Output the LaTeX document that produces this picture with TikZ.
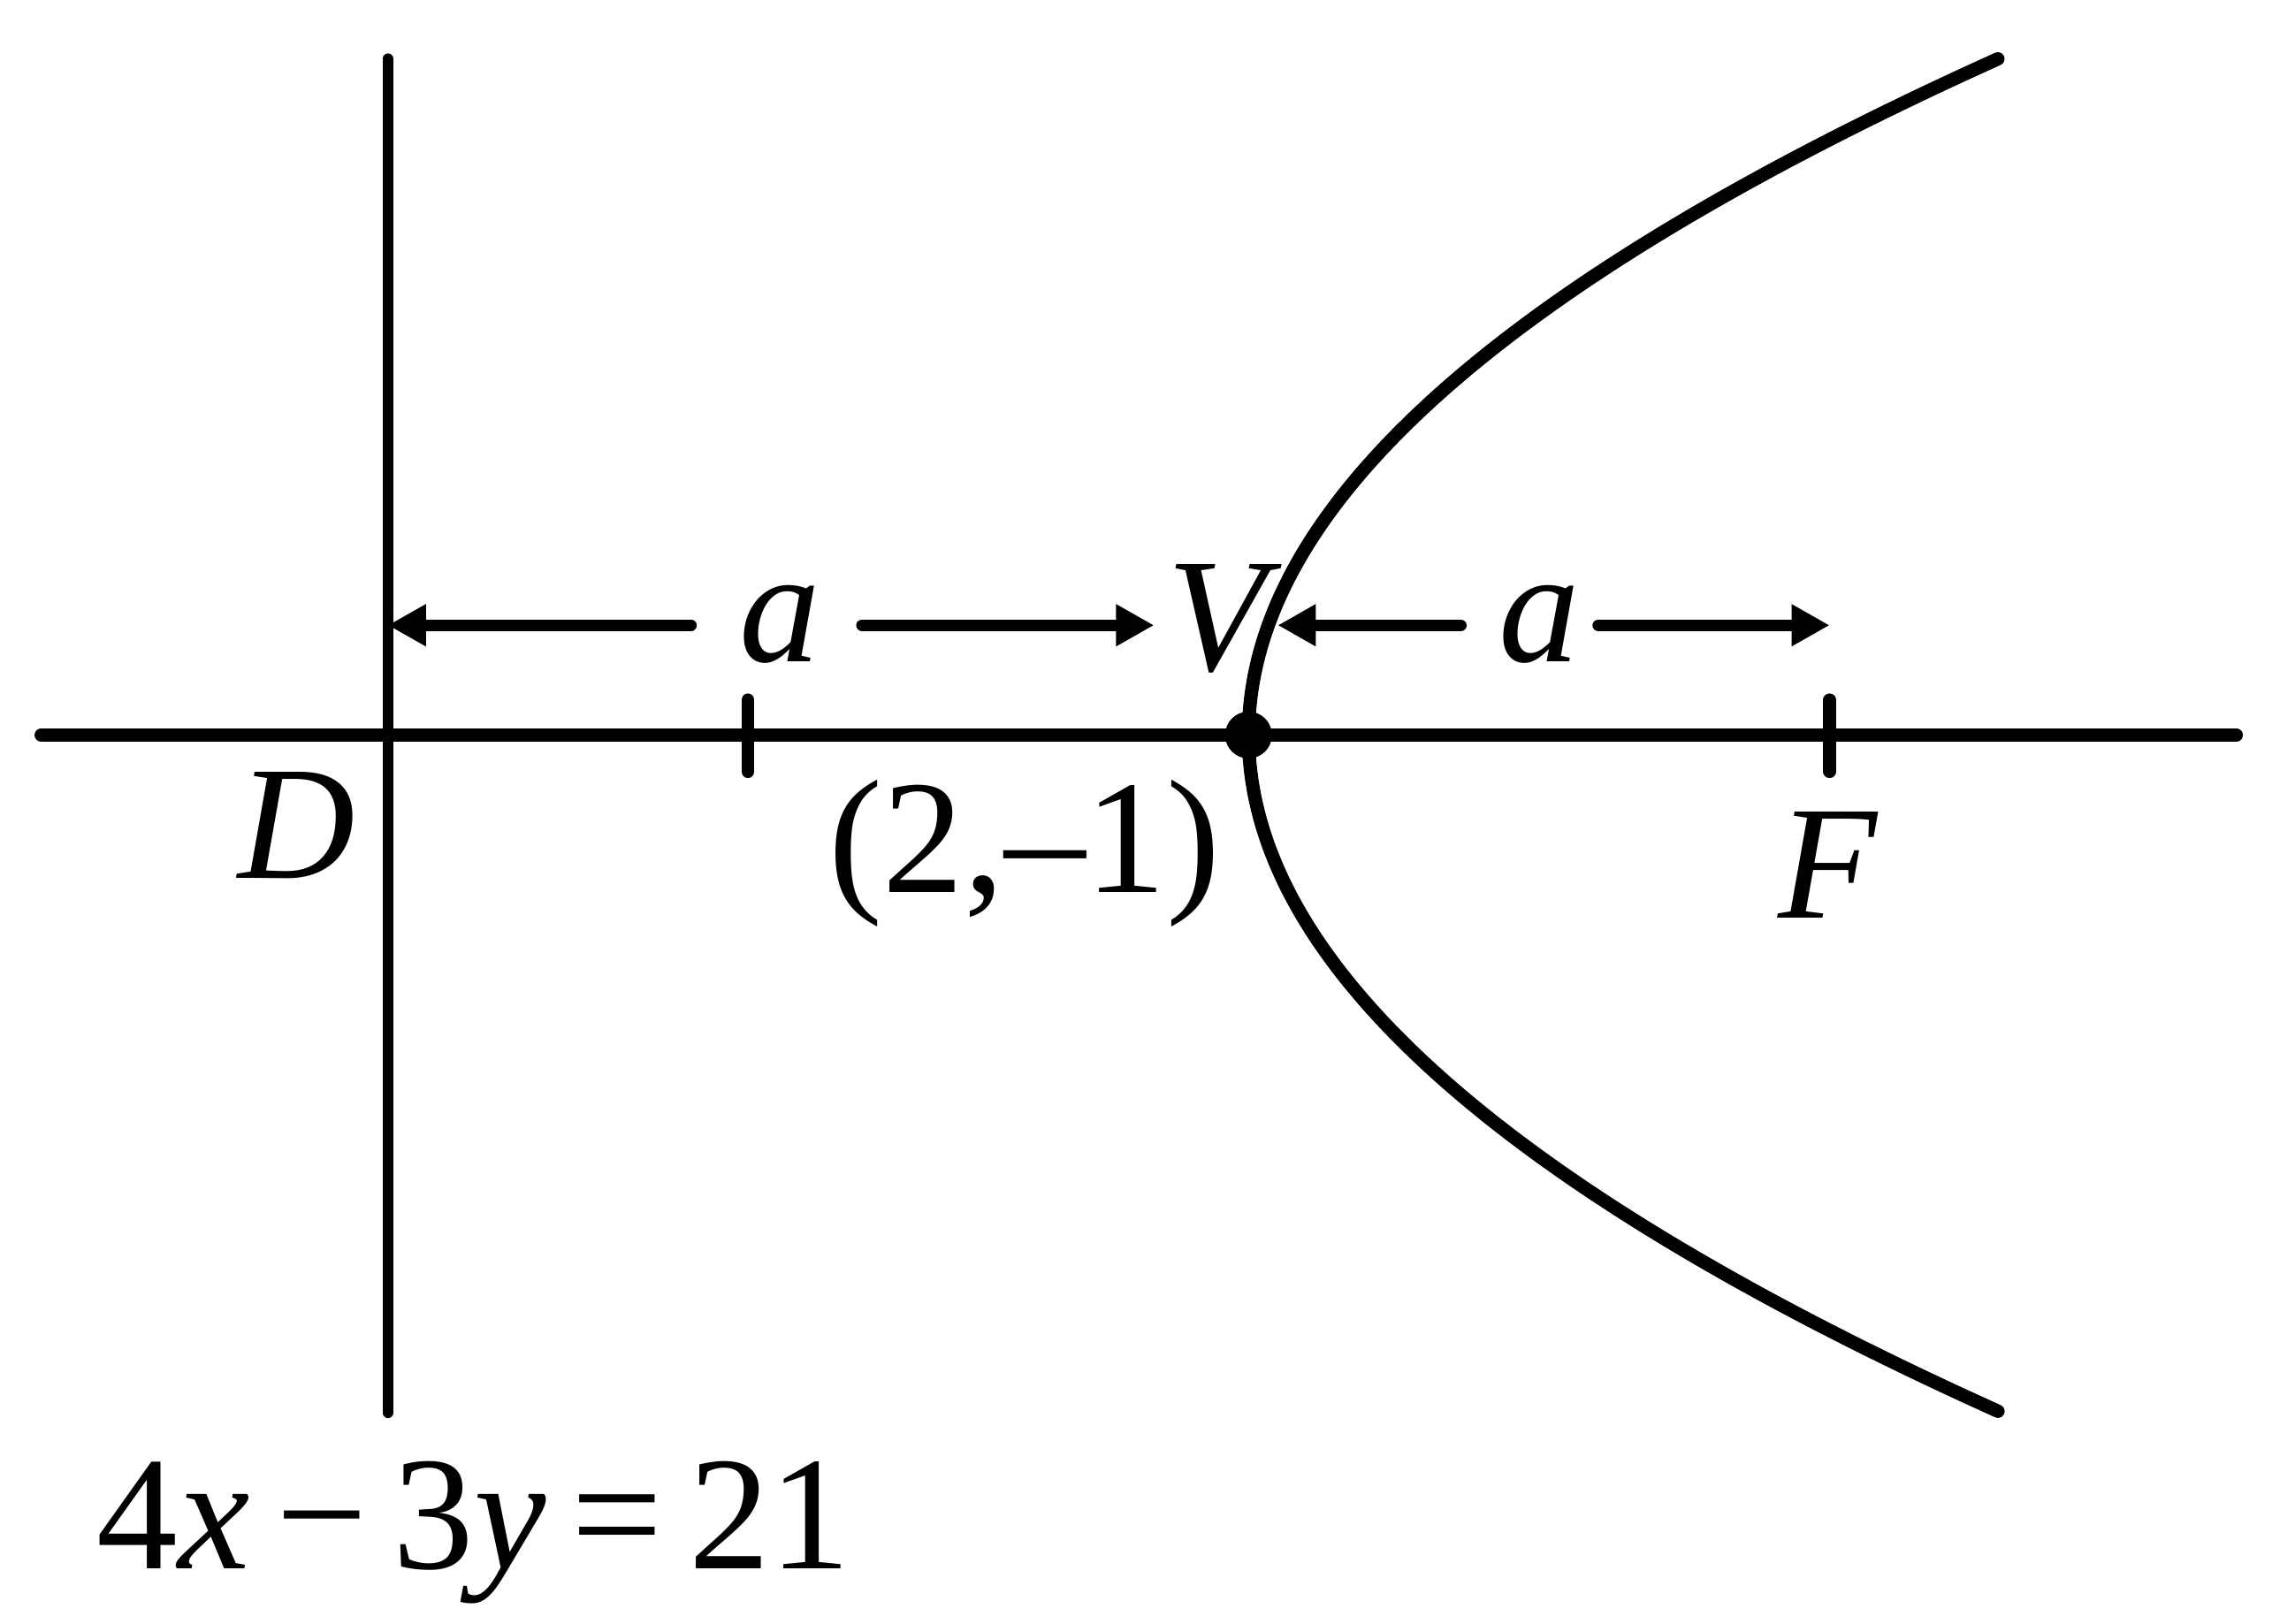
\documentclass[tikz,border=0pt]{standalone}
\usepackage{fontspec}
\setmainfont{Liberation Serif}
\usetikzlibrary{arrows.meta}

\begin{document}
\begin{tikzpicture}[line cap=round, line width=2.5pt,
    dimarrow/.style={line width=2.3pt, -{Triangle[length=0.26cm, width=0.27cm]}},
    lbl/.style={font=\fontsize{31.5}{38}\selectfont, inner sep=0pt, anchor=base}]
        \useasboundingbox (0,0) rectangle (15.68,11.09);
        % axis, directrix and ticks
        \coordinate (L) at (0.28, 6.068);
        \coordinate (R) at (15.28, 6.068);
        \coordinate (Dtop) at (2.65, 10.688);
        \coordinate (Dbot) at (2.65, 1.438);
        \coordinate (T1) at (5.11, 6.068);
        \coordinate (T2) at (12.50, 6.068);
        \draw (L) -- (R);
        \draw[line width=2.1pt] (Dtop) -- (Dbot);
        \draw ([yshift=0.24cm]T1) -- ([yshift=-0.25cm]T1);
        \draw ([yshift=0.24cm]T2) -- ([yshift=-0.25cm]T2);
        % parabola through the vertex
        \draw[line width=2.6pt] plot[domain=-4.62:4.62, samples=80, smooth]
          ({8.53+0.2399*\x*\x}, {6.068+\x});
        \node[circle, fill=black, inner sep=0pt, minimum size=0.32cm] (V) at (8.53, 6.068) {};
        % labels
        \node[lbl] (aL) at (5.33, 6.57) {\textit{a}};
        \node[lbl] (aR) at (10.52, 6.57) {\textit{a}};
        \node[lbl] (Vlbl) at (8.37, 6.51) {\textit{V}};
        \node[lbl] (Dlbl) at (2.03, 5.09) {\textit{D}};
        \node[lbl] (Flbl) at (12.49, 4.82) {\textit{F}};
        \node[lbl] (pt) at (7.00, 4.99) {(2,–1)};
        \node[lbl, anchor=base west] (eq) at (0.62, 0.37)
          {4\textit{x}\hspace{5pt}−\hspace{5pt}3\textit{y}\hspace{5pt}=\hspace{5pt}21};
        % distance arrows
        \coordinate (a1l) at (4.72, 6.818);
        \coordinate (a1r) at (5.89, 6.818);
        \coordinate (a2l) at (9.98, 6.818);
        \coordinate (a2r) at (10.92, 6.818);
        \draw[dimarrow] (a1l) -- (a1l -| Dtop);
        \draw[dimarrow] (a1r) -- ([xshift=-0.05cm]a1r -| Vlbl.west);
        \draw[dimarrow] (a2l) -- (8.73, 6.818);
        \draw[dimarrow] (a2r) -- (a2r -| T2);
      \end{tikzpicture}
\end{document}
